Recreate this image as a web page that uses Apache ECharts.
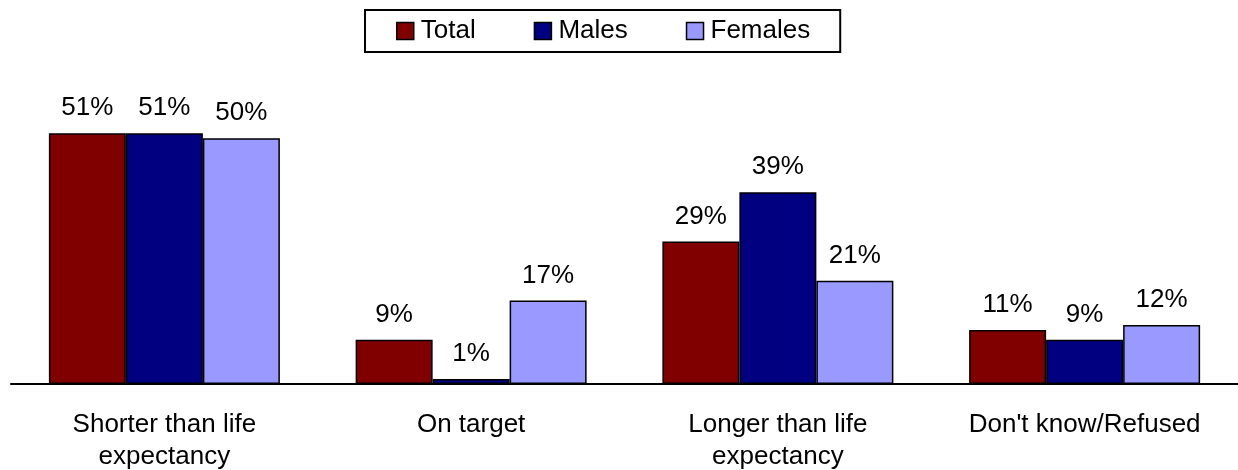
<!DOCTYPE html>
<html>
<head>
<meta charset="utf-8">
<script src="https://cdn.jsdelivr.net/npm/echarts@6/dist/echarts.min.js"></script>
<style>
  html, body { margin: 0; padding: 0; background: #fff; }
  #chart { width: 1238px; height: 470px; }
</style>
</head>
<body>
<div id="chart"></div>
<script>
// Survey responses by group, percent
const categories = ['Shorter than life\nexpectancy', 'On target', 'Longer than life\nexpectancy', "Don't know/Refused"];
const totalValues = [51, 9, 29, 11];
const malesValues = [51, 1, 39, 9];
const femalesValues = [50, 17, 21, 12];

const FONT = '"Liberation Sans", Arial, sans-serif';

function barSeries(name, data, color) {
  return {
    name: name,
    type: 'bar',
    data: data,
    barWidth: 77,
    barGap: '0%',
    itemStyle: { color: color, borderColor: '#000', borderWidth: 1.5 },
    label: {
      show: true,
      position: 'top',
      distance: 12,
      formatter: '{c}%',
      color: '#000',
      fontFamily: FONT,
      fontSize: 26
    }
  };
}

const chart = echarts.init(document.getElementById('chart'), null, { renderer: 'canvas' });
chart.setOption({
  animation: false,
  backgroundColor: '#fff',
  legend: {
    top: 10,
    left: 365,
    itemWidth: 17,
    itemHeight: 17,
    itemGap: 58,
    padding: [8, 30, 8, 31],
    borderColor: '#000',
    borderWidth: 2,
    icon: 'rect',
    textStyle: { fontFamily: FONT, fontSize: 26, lineHeight: 24, color: '#000', padding: [0, 0, 0, 2] },
    itemStyle: { borderColor: '#000', borderWidth: 1.5 },
    data: ['Total', 'Males', 'Females']
  },
  grid: { left: 11, right: 0, top: 89, bottom: 86, containLabel: false, outerBoundsMode: 'none' },
  xAxis: {
    type: 'category',
    data: categories,
    axisLine: { lineStyle: { color: '#000', width: 2 } },
    axisTick: { show: false },
    axisLabel: {
      color: '#000',
      fontFamily: FONT,
      fontSize: 26,
      lineHeight: 32,
      margin: 25,
      interval: 0
    }
  },
  yAxis: {
    type: 'value',
    min: 0,
    max: 60,
    show: false,
    splitLine: { show: false }
  },
  series: [
    barSeries('Total', totalValues, '#800000'),
    barSeries('Males', malesValues, '#000080'),
    barSeries('Females', femalesValues, '#9999FF')
  ]
});
</script>
</body>
</html>
